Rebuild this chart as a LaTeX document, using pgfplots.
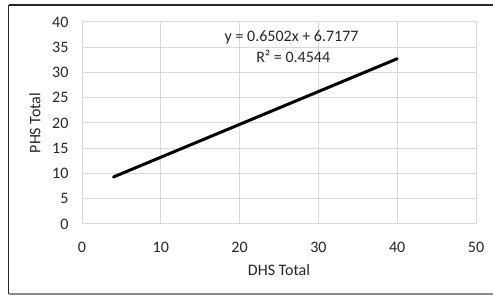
\documentclass[border=0pt]{standalone}
\usepackage{pgfplots}
\pgfplotsset{compat=1.18}
\usepackage{fontspec}
\setmainfont{Carlito}
\definecolor{gridgray}{RGB}{217,217,217}
\definecolor{txt}{RGB}{38,38,38}
\begin{document}
\begin{tikzpicture}[x=1pt,y=1pt]
\useasboundingbox (0,0) rectangle (493,296);
\fill[white] (0,0) rectangle (493,296);
\draw[line width=1.6pt, black!85] (8.5,2) -- (8.5,291) ;
\draw[line width=1.6pt, black!85] (8.5,291) -- (493,291);
\draw[line width=1.2pt, black!45] (8.5,2) -- (493,2);
\begin{axis}[
  at={(82pt,72pt)}, anchor=origin,
  scale only axis, width=394pt, height=202pt,
  xmin=0, xmax=50, ymin=0, ymax=40,
  xtick={0,10,...,50}, ytick={0,5,...,40},
  grid=major,
  major grid style={gridgray, line width=1pt},
  axis line style={gridgray, line width=1pt},
  tick style={draw=none},
  clip=false,
  /pgf/number format/assume math mode=true,
  ticklabel style={font=\fontsize{16}{18}\selectfont, text=txt},
  xticklabel style={anchor=center, yshift=-23pt},
  yticklabel style={anchor=east, xshift=-10pt},
  xlabel={DHS Total},
  ylabel={PHS Total},
  label style={font=\fontsize{16}{18}\selectfont, text=txt},
  xlabel style={at={(axis description cs:0.5,-0.2277)}, anchor=center},
  ylabel style={at={(axis description cs:-0.1193,0.5)}, anchor=center},
]
\addplot[black, line width=3pt, line cap=round] coordinates {(4,9.3185) (40,32.7257)};
\node[font=\fontsize{16}{18}\selectfont, text=txt, anchor=center] at (axis cs:26.6,37.0) {y = 0.6502x + 6.7177};
\node[font=\fontsize{16}{18}\selectfont, text=txt, anchor=center] at (axis cs:26.8,33.1) {R² = 0.4544};
\end{axis}
\end{tikzpicture}
\end{document}
